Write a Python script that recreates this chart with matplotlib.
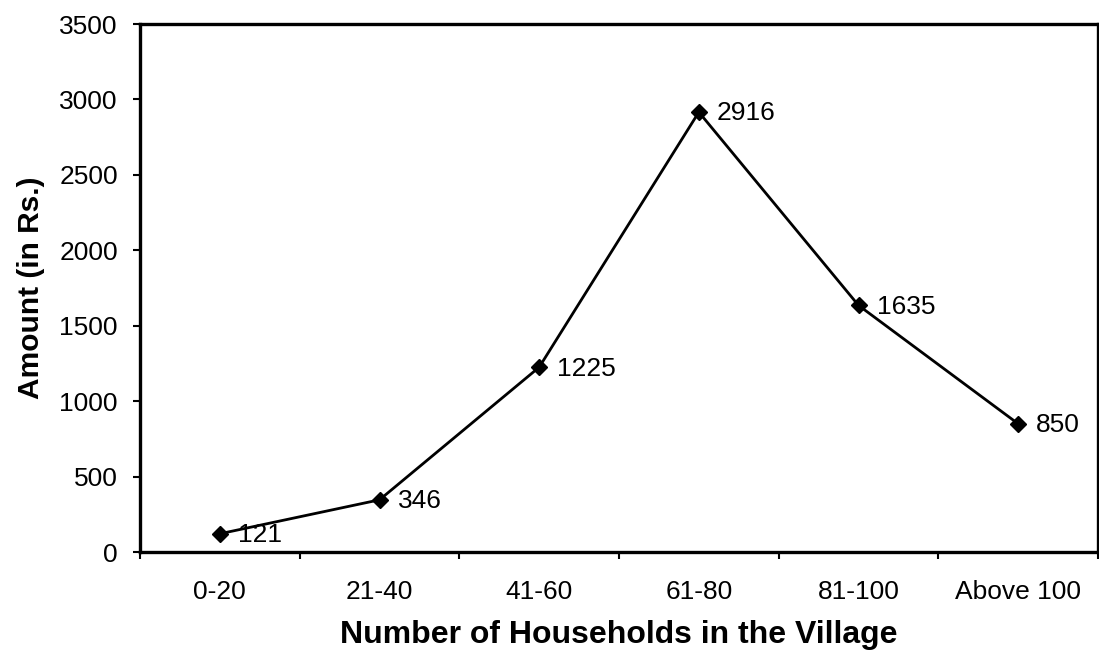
import matplotlib
matplotlib.use("Agg")
import matplotlib.pyplot as plt
from matplotlib.ticker import FixedLocator, NullFormatter

categories = ["0-20", "21-40", "41-60", "61-80", "81-100", "Above 100"]
amounts = [121, 346, 1225, 2916, 1635, 850]
y_ticks = [0, 500, 1000, 1500, 2000, 2500, 3000, 3500]

plt.rcParams['font.family'] = ['Liberation Sans', 'DejaVu Sans']

fig = plt.figure(figsize=(10.99, 6.63), dpi=100)
ax = fig.add_axes([0.1274, 0.1674, 0.8717, 0.7964])

x = list(range(len(categories)))
ax.plot(x, amounts, color='black', linewidth=2.0, marker='D', markersize=8.5,
        markerfacecolor='black', markeredgecolor='black')

for xi, v in zip(x, amounts):
    ax.annotate(str(v), (xi, v), xytext=(13, -1), textcoords='offset points',
                ha='left', va='center', fontsize=19, color='black')

ax.set_xlim(-0.5, len(categories) - 0.5)
ax.set_ylim(0, 3500)
ax.set_yticks(y_ticks)
ax.set_yticklabels([str(t) for t in y_ticks])

ax.set_xticks(x)
ax.set_xticklabels(categories)
ax.xaxis.set_minor_locator(FixedLocator([i - 0.5 for i in range(len(categories) + 1)]))
ax.xaxis.set_minor_formatter(NullFormatter())
ax.tick_params(axis='x', which='major', length=0, pad=20, labelsize=19)
ax.tick_params(axis='x', which='minor', length=5, width=1.5, direction='out')
ax.tick_params(axis='y', which='major', length=5, width=1.5, direction='out',
               pad=11, labelsize=19)

for side in ['left', 'bottom', 'top', 'right']:
    ax.spines[side].set_linewidth(2.4)
    ax.spines[side].set_color('black')

ax.set_xlabel("Number of Households in the Village", fontsize=23, fontweight='bold', labelpad=12)
ax.set_ylabel("Amount (in Rs.)", fontsize=21.5, fontweight='bold', labelpad=10)

fig.savefig("out.png", dpi=100)
